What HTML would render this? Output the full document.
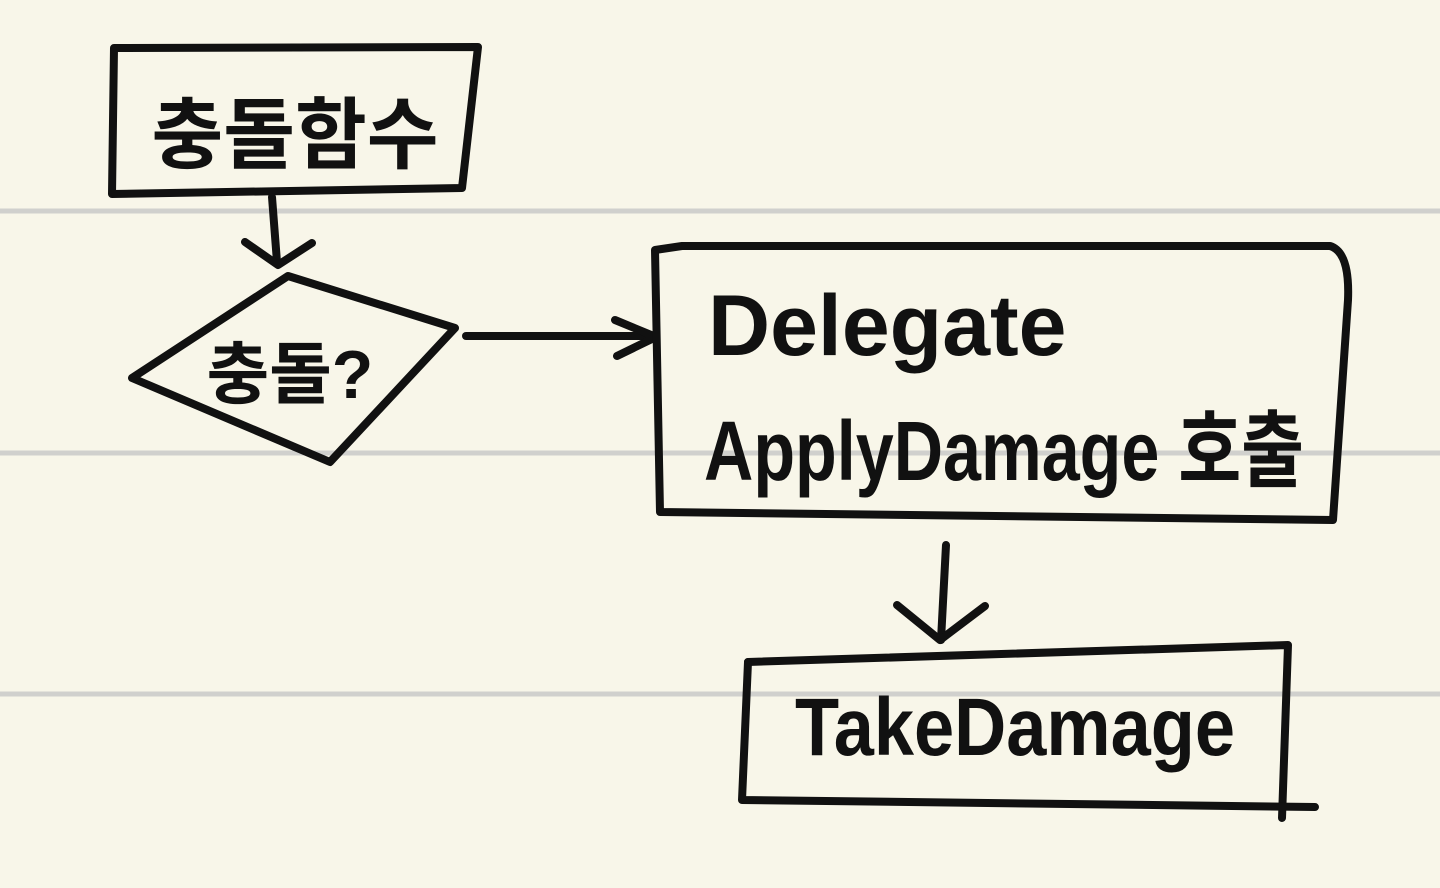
<!DOCTYPE html>
<html><head><meta charset="utf-8"><style>
html,body{margin:0;padding:0;background:#f8f6e9;}
svg{display:block}
text{font-family:"Liberation Sans","Noto Sans CJK KR","NanumGothic",sans-serif;fill:#111;}
</style></head><body>
<svg width="1440" height="888" viewBox="0 0 1440 888" xmlns="http://www.w3.org/2000/svg">
<rect width="1440" height="888" fill="#f8f6e9"/>
<g stroke="#d0d0cd" stroke-width="5">
<line x1="0" y1="211" x2="1440" y2="211"/>
<line x1="0" y1="453" x2="1440" y2="453"/>
<line x1="0" y1="694" x2="1440" y2="694"/>
</g>
<g fill="none" stroke="#111" stroke-width="8" stroke-linecap="round" stroke-linejoin="round">
<polygon points="114,48 478,47 462,188 112,194"/>
<polyline points="272,197 277,262"/>
<polyline points="245,242 278,265 312,243"/>
<polygon points="132,378 288,276 455,328 330,462"/>
<polyline points="466,336 655,336"/>
<polyline points="615,320 656,337 617,356"/>
<path d="M682,246 L1330,246 Q1350,252 1348,300 L1333,520 L660,512 L655,250 Z"/>
<polyline points="946,545 941,640"/>
<polyline points="897,605 940,640 985,606"/>
<path d="M748,662 L1288,645 L1282,818 M1288,645 L1282,818"/>
<polyline points="748,662 742,800 1315,807"/>
</g>
<text x="295" y="162" font-size="78" font-weight="bold" text-anchor="middle">충돌함수</text>
<text x="290" y="398" font-size="68" font-weight="bold" text-anchor="middle">충돌?</text>
<text x="708" y="355" font-size="86" font-weight="bold">Delegate</text>
<text x="704" y="480" font-size="84" font-weight="bold" textLength="600" lengthAdjust="spacingAndGlyphs">ApplyDamage 호출</text>
<text x="1015" y="755" font-size="82" font-weight="bold" text-anchor="middle" textLength="440" lengthAdjust="spacingAndGlyphs">TakeDamage</text>
</svg>
</body></html>
